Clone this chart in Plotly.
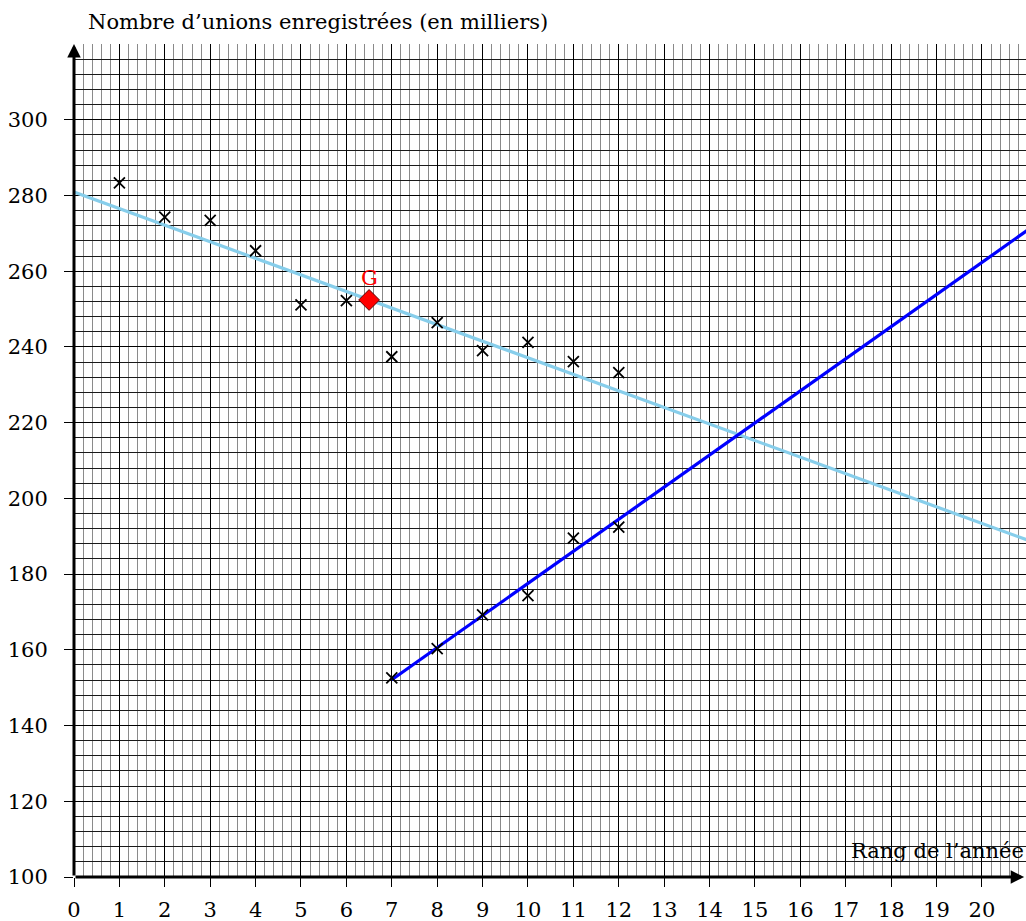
import plotly.graph_objects as go

# ---- data ----
years_a = [1, 2, 3, 4, 5, 6, 7, 8, 9, 10, 11, 12]
unions_a = [283.3, 274.3, 273.4, 265.4, 251.1, 252.2, 237.4, 246.4, 239.0, 241.2, 236.1, 233.2]

years_b = [7, 8, 9, 10, 11, 12]
unions_b = [152.6, 160.3, 169.2, 174.3, 189.5, 192.4]

g_x = [6.5]
g_y = [252.4]

fit_a_x = [0, 21]
fit_a_y = [280.9, 189.0]

fit_b_x = [7, 21]
fit_b_y = [152.1, 270.8]

x_tick_vals = list(range(0, 21))
y_tick_vals = list(range(100, 301, 20))

FONT = "DejaVu Serif"
FS = 21

fig = go.Figure()

fig.add_trace(go.Scatter(x=fit_a_x, y=fit_a_y, mode="lines",
                         line=dict(color="#87CEEB", width=3.2), hoverinfo="skip"))
fig.add_trace(go.Scatter(x=fit_b_x, y=fit_b_y, mode="lines",
                         line=dict(color="#0000FF", width=3.2), hoverinfo="skip"))
fig.add_trace(go.Scatter(x=years_a, y=unions_a, mode="markers",
                         marker=dict(symbol="x-thin", size=11,
                                     line=dict(color="black", width=1.8))))
fig.add_trace(go.Scatter(x=years_b, y=unions_b, mode="markers",
                         marker=dict(symbol="x-thin", size=11,
                                     line=dict(color="black", width=1.8))))
fig.add_trace(go.Scatter(x=g_x, y=g_y, mode="markers",
                         marker=dict(symbol="diamond", size=16, color="#FF0000",
                                     line=dict(color="#5a0000", width=1))))

fig.update_layout(
    width=1026, height=921,
    margin=dict(l=74, r=0, t=44, b=44),
    paper_bgcolor="white", plot_bgcolor="white",
    showlegend=False,
    font=dict(family=FONT, size=FS, color="black"),
    xaxis=dict(
        range=[0, 20.97], tickmode="array", tickvals=x_tick_vals,
        ticks="outside", ticklen=9, tickwidth=1, tickcolor="black",
        ticklabelstandoff=5,
        tickfont=dict(family=FONT, size=FS, color="black"),
        showgrid=True, gridcolor="black", gridwidth=1.3,
        minor=dict(tick0=0, dtick=0.2, showgrid=True, gridcolor="#8a8a8a", gridwidth=1.3),
        zeroline=False, showline=False, fixedrange=True,
    ),
    yaxis=dict(
        range=[100, 320], tickmode="array", tickvals=y_tick_vals,
        ticks="outside", ticklen=9, tickwidth=1, tickcolor="black",
        ticklabelstandoff=12,
        tickfont=dict(family=FONT, size=FS, color="black"),
        showgrid=True, gridcolor="black", gridwidth=1.3,
        minor=dict(tick0=100, dtick=4, showgrid=True, gridcolor="#1a1a1a", gridwidth=1),
        zeroline=False, showline=False, fixedrange=True,
    ),
)

# axes with arrows
fig.add_annotation(x=20.93, y=100, ax=0, ay=100, xref="x", yref="y", axref="x", ayref="y",
                   showarrow=True, arrowhead=2, arrowsize=0.9, arrowwidth=3, arrowcolor="black", text="")
fig.add_annotation(x=0, y=320, ax=0, ay=100, xref="x", yref="y", axref="x", ayref="y",
                   showarrow=True, arrowhead=2, arrowsize=0.9, arrowwidth=3, arrowcolor="black", text="")

fig.add_annotation(x=0.013, y=1.026, xref="paper", yref="paper", xanchor="left", yanchor="middle",
                   text="Nombre d’unions enregistrées (en milliers)", showarrow=False,
                   font=dict(family=FONT, size=FS, color="black"))
fig.add_annotation(x=0.9995, y=0.0315, xref="paper", yref="paper", xanchor="right", yanchor="middle",
                   text="Rang de l’année", showarrow=False,
                   font=dict(family=FONT, size=FS, color="black"))
fig.add_annotation(x=6.5, y=258.3, xref="x", yref="y", xanchor="center", yanchor="middle",
                   text="G", showarrow=False,
                   font=dict(family=FONT, size=FS, color="#FF0000"))

fig.write_html("out.html", config={"displayModeBar": False},
               post_script="document.body.style.margin='0';document.body.style.overflow='hidden';")
